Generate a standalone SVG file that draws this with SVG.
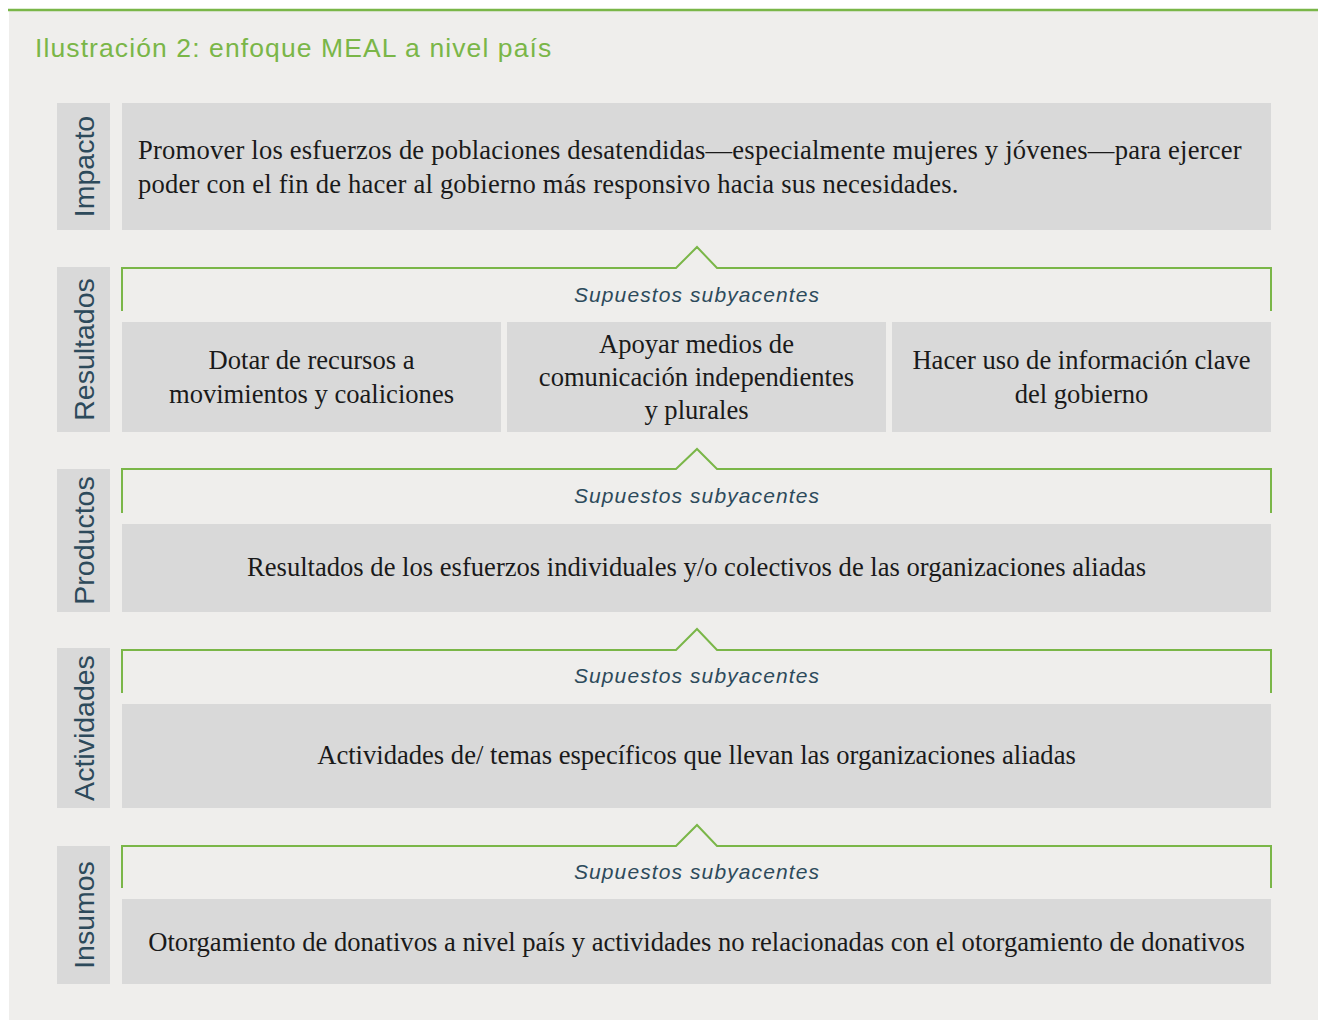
<svg xmlns="http://www.w3.org/2000/svg" width="1318" height="1020" viewBox="0 0 1318 1020">
<style>
.bg{fill:#EFEEEC}
.box{fill:#D9D9D9}
.side{font-family:"Liberation Sans",Arial,sans-serif;font-size:28.5px;fill:#2D4A5B;text-anchor:middle}
.main{font-family:"Liberation Serif","Times New Roman",serif;font-size:26.6px;fill:#1A1A1A}
.c{text-anchor:middle}
.sup{font-family:"Liberation Sans",Arial,sans-serif;font-style:italic;font-size:21px;letter-spacing:1.1px;fill:#2D4A5B;text-anchor:middle}
.br{fill:none;stroke:#7AB648;stroke-width:2}
</style>
<rect x="0" y="0" width="1318" height="1020" fill="#FFFFFF"/>
<rect class="bg" x="9" y="10" width="1309" height="1010"/>
<line x1="8" y1="10" x2="1318" y2="10" stroke="#7AB648" stroke-width="2.5"/>
<text id="title" x="35" y="57" font-family="'Liberation Sans',Arial,sans-serif" font-size="26.5" letter-spacing="1.1" fill="#7AB648">Ilustración 2: enfoque MEAL a nivel país</text>

<g id="impacto">
<rect class="box" x="57" y="103" width="53" height="127"/>
<text class="side" transform="translate(94,166.5) rotate(-90)">Impacto</text>
<rect class="box" x="122" y="103" width="1149" height="127"/>
<text class="main" x="138" y="159" letter-spacing="0.2">Promover los esfuerzos de poblaciones desatendidas—especialmente mujeres y jóvenes—para ejercer</text>
<text class="main" x="138" y="193" letter-spacing="0.2">poder con el fin de hacer al gobierno más responsivo hacia sus necesidades.</text>
</g>

<g id="resultados">
<rect class="box" x="57" y="267" width="53" height="165"/>
<text class="side" transform="translate(94,349.5) rotate(-90)">Resultados</text>
<rect class="box" x="122" y="322" width="379" height="110"/>
<text class="main c" x="311.5" y="369">Dotar de recursos a</text>
<text class="main c" x="311.5" y="403">movimientos y coaliciones</text>
<rect class="box" x="507" y="322" width="379" height="110"/>
<text class="main c" x="696.5" y="353">Apoyar medios de</text>
<text class="main c" x="696.5" y="386">comunicación independientes</text>
<text class="main c" x="696.5" y="419">y plurales</text>
<rect class="box" x="892" y="322" width="379" height="110"/>
<text class="main c" x="1081.5" y="369">Hacer uso de información clave</text>
<text class="main c" x="1081.5" y="403">del gobierno</text>
</g>

<g id="productos">
<rect class="box" x="57" y="469" width="53" height="143"/>
<text class="side" transform="translate(94,540.5) rotate(-90)">Productos</text>
<rect class="box" x="122" y="524" width="1149" height="88"/>
<text class="main c" x="696.5" y="576">Resultados de los esfuerzos individuales y/o colectivos de las organizaciones aliadas</text>
</g>

<g id="actividades">
<rect class="box" x="57" y="648" width="53" height="160"/>
<text class="side" transform="translate(94,728) rotate(-90)">Actividades</text>
<rect class="box" x="122" y="704" width="1149" height="104"/>
<text class="main c" x="696.5" y="764">Actividades de/ temas específicos que llevan las organizaciones aliadas</text>
</g>

<g id="insumos">
<rect class="box" x="57" y="846" width="53" height="138"/>
<text class="side" transform="translate(94,915) rotate(-90)">Insumos</text>
<rect class="box" x="122" y="899" width="1149" height="85"/>
<text class="main c" x="696.5" y="951">Otorgamiento de donativos a nivel país y actividades no relacionadas con el otorgamiento de donativos</text>
</g>

<g id="connectors">
<polyline class="br" points="122,311 122,268 676,268 697,247 717,268 1271,268 1271,311"/>
<text class="sup" x="697" y="302">Supuestos subyacentes</text>
<polyline class="br" points="122,513 122,469 676,469 697,449 717,469 1271,469 1271,513"/>
<text class="sup" x="697" y="503">Supuestos subyacentes</text>
<polyline class="br" points="122,693 122,650 676,650 697,629 717,650 1271,650 1271,693"/>
<text class="sup" x="697" y="683">Supuestos subyacentes</text>
<polyline class="br" points="122,888 122,846 676,846 697,825 717,846 1271,846 1271,888"/>
<text class="sup" x="697" y="879">Supuestos subyacentes</text>
</g>
</svg>
